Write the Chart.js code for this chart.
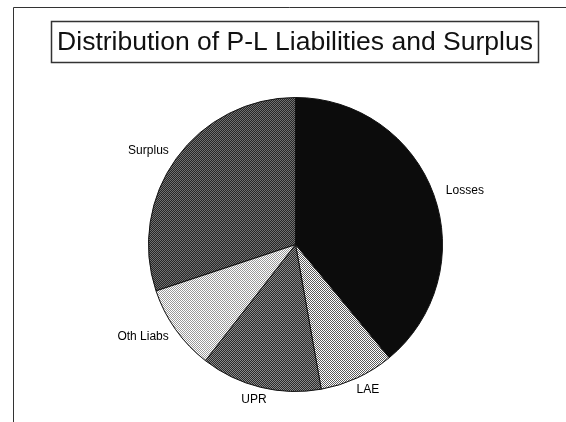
<!DOCTYPE html>
<html>
<head>
<meta charset="utf-8">
<script src="https://cdn.jsdelivr.net/npm/chart.js@4/dist/chart.umd.min.js"></script>
<style>
  html, body { margin: 0; padding: 0; background: #fff; }
  #wrap { width: 566px; height: 422px; }
</style>
</head>
<body>
<div id="wrap"><canvas id="pie" width="566" height="422"></canvas></div>
<script>
// values (percent of total)
const chartTitle = 'Distribution of P-L Liabilities and Surplus';
const categories = ['Losses', 'LAE', 'UPR', 'Oth Liabs', 'Surplus'];
const shares = [39, 8.2, 13.3, 9.4, 30.1];

// halftone look: small 2x2 checker of two greys
function dither(c1, c2) {
    let cv = document.createElement('canvas');
    cv.width = 2; cv.height = 2;
    let g = cv.getContext('2d');
    g.fillStyle = c1; g.fillRect(0, 0, 2, 2);
    g.fillStyle = c2; g.fillRect(0, 0, 1, 1); g.fillRect(1, 1, 1, 1);
    return g.createPattern(cv, 'repeat');
}

const sliceFills = [
    '#0c0c0c',
    dither('#ffffff', '#5a5a5a'),
    dither('#2a2a2a', '#8a8a8a'),
    dither('#ffffff', '#9a9a9a'),
    dither('#262626', '#707070')
];

// frame on the left/top edge and the boxed title
const framePlugin = {
    id: 'frame',
    beforeDraw(chart) {
        let ctx = chart.ctx;
        ctx.save();
        ctx.fillStyle = '#fff';
        ctx.fillRect(0, 0, chart.width, chart.height);
        ctx.strokeStyle = '#333';
        ctx.lineWidth = 1;
        ctx.beginPath();
        ctx.moveTo(13.5, 422);
        ctx.lineTo(13.5, 7.5);
        ctx.lineTo(566, 7.5);
        ctx.stroke();
        ctx.lineWidth = 1.5;
        ctx.strokeRect(51.5, 21.5, 487, 41);
        ctx.fillStyle = '#111';
        ctx.font = '26.5px "Liberation Sans", Arial, sans-serif';
        ctx.textAlign = 'center';
        ctx.textBaseline = 'middle';
        ctx.fillText(chartTitle, 295, 43);
        ctx.restore();
    }
};

// category names just outside each slice
const outsideLabels = {
    id: 'outsideLabels',
    afterDatasetsDraw(chart) {
        let ctx = chart.ctx;
        let meta = chart.getDatasetMeta(0);
        ctx.save();
        ctx.font = '12px "Liberation Sans", Arial, sans-serif';
        ctx.fillStyle = '#000';
        ctx.textBaseline = 'middle';
        ctx.textAlign = 'center';
        meta.data.forEach((arc, i) => {
            let p = arc.getProps(['x', 'y', 'startAngle', 'endAngle', 'outerRadius'], true);
            let mid = (p.startAngle + p.endAngle) / 2;
            let dx = Math.cos(mid), dy = Math.sin(mid);
            let text = chart.data.labels[i];
            let halfW = ctx.measureText(text).width / 2;
            let r = p.outerRadius + 8;
            let tx = p.x + dx * r + (halfW + 6) * dx;
            let ty = p.y + dy * r + 5 * dy;
            ctx.fillText(text, tx, ty);
        });
        ctx.restore();
    }
};

new Chart(document.getElementById('pie'), {
    type: 'pie',
    data: {
        labels: categories,
        datasets: [{
            data: shares,
            backgroundColor: sliceFills,
            borderColor: '#111',
            borderWidth: 1
        }]
    },
    options: {
        responsive: false,
        animation: false,
        layout: { padding: { top: 95, bottom: 28, left: 148, right: 123 } },
        plugins: {
            legend: { display: false },
            title: { display: false },
            tooltip: { enabled: false }
        }
    },
    plugins: [framePlugin, outsideLabels]
});
</script>
</body>
</html>
